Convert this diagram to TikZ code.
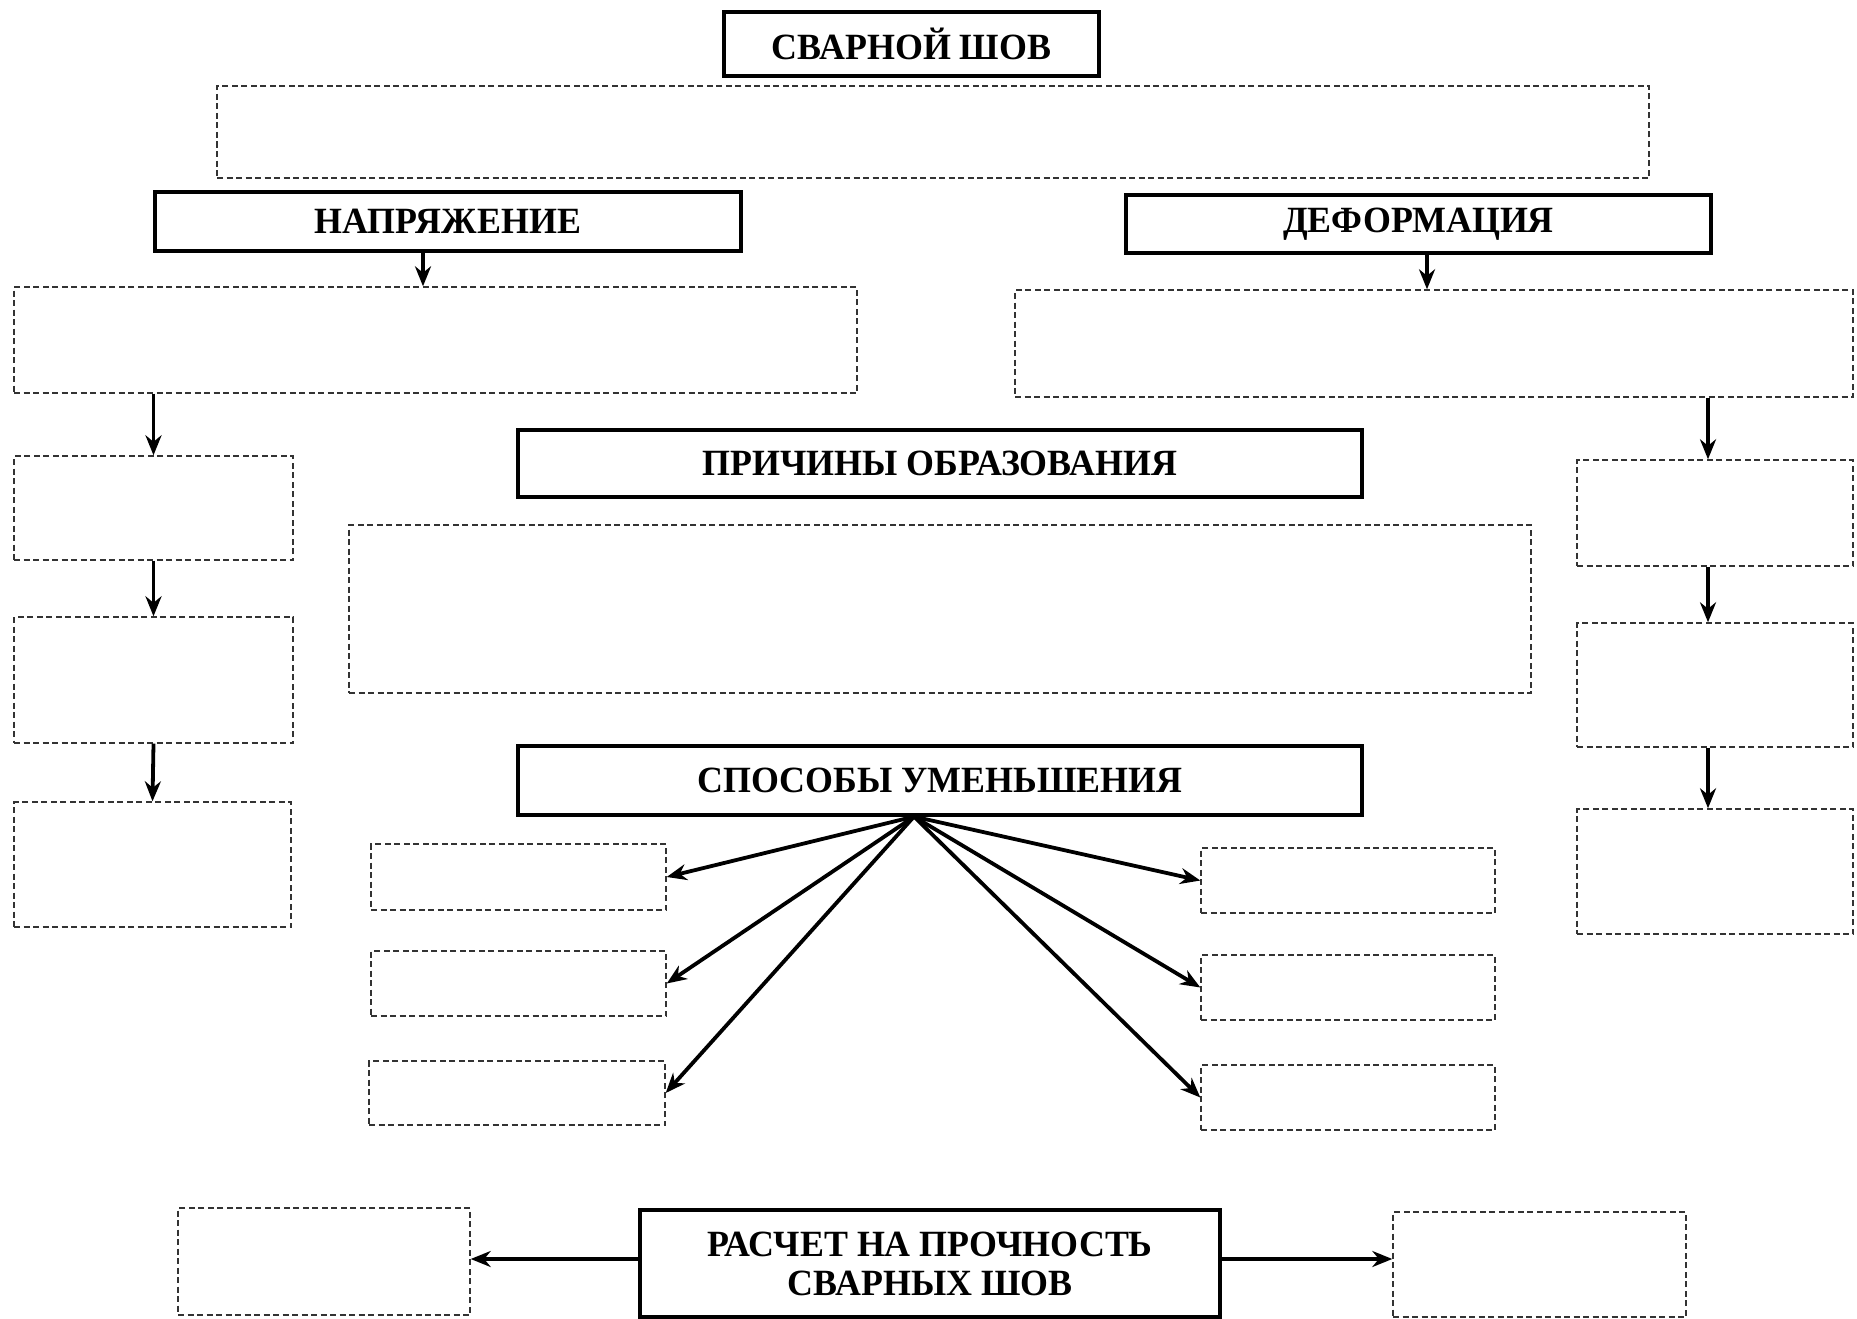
\documentclass[tikz,border=0pt]{standalone}
\usepackage{fontspec}
\setmainfont{Liberation Serif}[FakeStretch=0.97]
\usetikzlibrary{arrows.meta}
\tikzset{
  sbox/.style={draw=black, line width=3.2pt, inner sep=0pt, fill=white, align=center,
    font=\fontsize{37}{43}\selectfont\bfseries},
  dbox/.style={draw=black!80, line width=1.4pt, dash pattern=on 6pt off 3.5pt, inner sep=0pt},
  arr/.style={line width=3.8pt, -{Stealth[length=20pt,width=16pt]}},
}
\begin{document}
\begin{tikzpicture}[x=1pt,y=-1pt]
\useasboundingbox (0,0) rectangle (1857,1319);
% solid boxes
\node[sbox, minimum width=375pt, minimum height=64pt] (top) at (911.5,44) {СВАРНОЙ ШОВ};
\node[sbox, minimum width=586pt, minimum height=59pt] (napr) at (448,221.5) {НАПРЯЖЕНИЕ};
\node[sbox, minimum width=585pt, minimum height=58pt] (def) at (1418.5,224) {ДЕФОРМАЦИЯ};
\node[sbox, minimum width=844pt, minimum height=67pt] (prich) at (940,463.5) {ПРИЧИНЫ ОБРАЗОВАНИЯ};
\node[sbox, minimum width=844pt, minimum height=69pt] (spos) at (940,780.5) {СПОСОБЫ УМЕНЬШЕНИЯ};
\node[sbox, minimum width=580pt, minimum height=107pt] (rasch) at (930,1263.5) {РАСЧЕТ НА ПРОЧНОСТЬ\\[-4pt]СВАРНЫХ ШОВ};
% dashed boxes
\node[dbox, minimum width=1432pt, minimum height=92pt] (dtop) at (933,132) {};
\node[dbox, minimum width=843pt, minimum height=106pt] (dl) at (435.5,340) {};
\node[dbox, minimum width=838pt, minimum height=107pt] (dr) at (1434,343.5) {};
\node[dbox, minimum width=279pt, minimum height=104pt] (l1) at (153.5,508) {};
\node[dbox, minimum width=279pt, minimum height=126pt] (l2) at (153.5,680) {};
\node[dbox, minimum width=277pt, minimum height=125pt] (l3) at (152.5,864.5) {};
\node[dbox, minimum width=1182pt, minimum height=168pt] (dc) at (940,609) {};
\node[dbox, minimum width=276pt, minimum height=106pt] (r1) at (1715,513) {};
\node[dbox, minimum width=276pt, minimum height=124pt] (r2) at (1715,685) {};
\node[dbox, minimum width=276pt, minimum height=125pt] (r3) at (1715,871.5) {};
\node[dbox, minimum width=295pt, minimum height=66pt] (L1) at (518.5,877) {};
\node[dbox, minimum width=295pt, minimum height=65pt] (L2) at (518.5,983.5) {};
\node[dbox, minimum width=296pt, minimum height=64pt] (L3) at (517,1093) {};
\node[dbox, minimum width=294pt, minimum height=65pt] (R1) at (1348,880.5) {};
\node[dbox, minimum width=294pt, minimum height=65pt] (R2) at (1348,987.5) {};
\node[dbox, minimum width=294pt, minimum height=65pt] (R3) at (1348,1097.5) {};
\node[dbox, minimum width=292pt, minimum height=107pt] (bl) at (324,1261.5) {};
\node[dbox, minimum width=293pt, minimum height=105pt] (br) at (1539.5,1264.5) {};
% arrows
\draw[arr] ([xshift=-25pt]napr.south) -- ([xshift=-25pt]napr.south |- dl.north);
\draw[arr] ([xshift=8.5pt]def.south) -- ([xshift=8.5pt]def.south |- dr.north);
\draw[arr] (l1.north |- dl.south) -- (l1.north);
\draw[arr] (l1.south) -- (l2.north);
\draw[arr] (l2.south) -- (l3.north);
\draw[arr] ([xshift=-7pt]r1.north |- dr.south) -- ([xshift=-7pt]r1.north);
\draw[arr] ([xshift=-7pt]r1.south) -- ([xshift=-7pt]r2.north);
\draw[arr] ([xshift=-7pt]r2.south) -- ([xshift=-7pt]r3.north);
\coordinate (f) at ([xshift=-26pt]spos.south);
\foreach \t in {L1,L2,L3} \draw[arr] (f) -- (\t.east);
\foreach \t in {R1,R2,R3} \draw[arr] (f) -- (\t.west);
\draw[arr] ([yshift=4.5pt]rasch.west) -- ([yshift=4.5pt]rasch.west -| bl.east);
\draw[arr] ([yshift=4.5pt]rasch.east) -- ([yshift=4.5pt]rasch.east -| br.west);
\end{tikzpicture}
\end{document}
